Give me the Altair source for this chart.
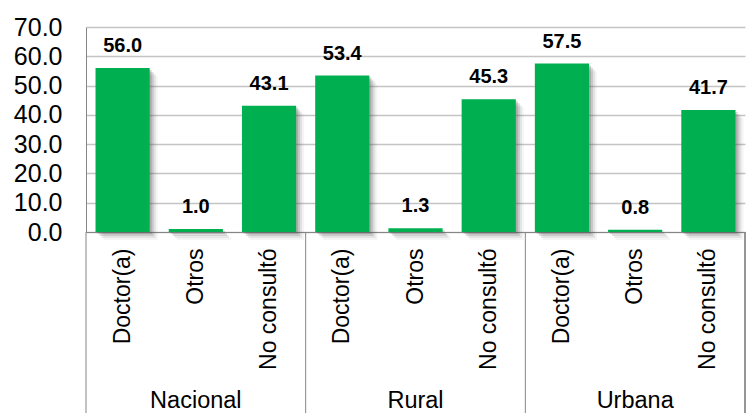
import altair as alt
import pandas as pd

groups = ["Nacional", "Rural", "Urbana"]
cats = ["Doctor(a)", "Otros", "No consultó"]
values = [56.0, 1.0, 43.1, 53.4, 1.3, 45.3, 57.5, 0.8, 41.7]
y_ticks = [0, 10, 20, 30, 40, 50, 60, 70]

rows = []
i = 0
for g in groups:
    for c in cats:
        rows.append({"grupo": g, "cat": c, "key": g + "|" + c, "valor": values[i]})
        i += 1
df = pd.DataFrame(rows)
order = list(df["key"])

gdf = pd.DataFrame({"grupo": groups, "key": [g + "|" + cats[1] for g in groups]})
sdf = pd.DataFrame({"key": [g + "|" + cats[0] for g in groups]})

W, H = 659, 205
FONT = "Liberation Sans"
GREEN = "#00B050"

xscale = alt.Scale(domain=order, paddingInner=0, paddingOuter=0)
yscale = alt.Scale(domain=[0, 70], nice=False, zero=True)

x_axis = alt.Axis(
    labelExpr="split(datum.label, '|')[1]", labelAngle=-90, labelFontSize=23,
    labelFont=FONT, labelColor="black", ticks=False, tickSize=0, labelPadding=16,
    domainColor="#868686", grid=False, labelOverlap=False,
)
y_axis = alt.Axis(
    values=y_ticks, format=".1f", labelFontSize=25, labelFont=FONT, labelColor="black",
    ticks=False, tickSize=0, labelPadding=24, grid=True, gridColor="#C4C4C4",
    gridWidth=1.5, domainColor="#868686", labelOverlap=False,
)

x_main = alt.X("key:N", scale=xscale, sort=order, title=None, axis=x_axis)
y_main = alt.Y("valor:Q", scale=yscale, title=None, axis=y_axis)

base = alt.Chart(df)
shadows = []
for k, op in [(2, 0.25), (4, 0.18), (6, 0.11), (8, 0.06)]:
    shadows.append(
        base.mark_bar(width=alt.RelativeBandSize(0.74), color="#555555", opacity=op,
                      xOffset=k, yOffset=k)
        .encode(x=x_main, y=y_main)
    )
bars = base.mark_bar(width=alt.RelativeBandSize(0.74), color=GREEN).encode(x=x_main, y=y_main)
labels = base.mark_text(font=FONT, fontSize=20, fontWeight="bold", baseline="alphabetic",
                        dy=-16, color="black").encode(
    x=x_main, y=y_main,
    text=alt.Text("valor:Q", format=".1f"),
)
seps = alt.Chart(sdf).mark_rule(color="#868686", strokeWidth=1).encode(
    x=alt.X("key:N", scale=xscale, sort=order, bandPosition=0, title=None, axis=x_axis),
    y=alt.value(H), y2=alt.value(H + 181),
)
right_sep = alt.Chart(sdf).mark_rule(color="#868686", strokeWidth=1).encode(
    x=alt.value(W), y=alt.value(H), y2=alt.value(H + 181),
)
glabels = alt.Chart(gdf).mark_text(font=FONT, fontSize=23.5, baseline="alphabetic",
                                   color="black").encode(
    x=x_main,
    y=alt.value(H + 176),
    text="grupo:N",
)

chart = alt.layer(*shadows, bars, labels, seps, right_sep, glabels).properties(
    width=W, height=H, padding={"left": 5, "top": 7, "right": 0, "bottom": 0}
).configure_view(stroke=None)

chart.save("out.html", embed_options={"renderer": "svg", "actions": False})
